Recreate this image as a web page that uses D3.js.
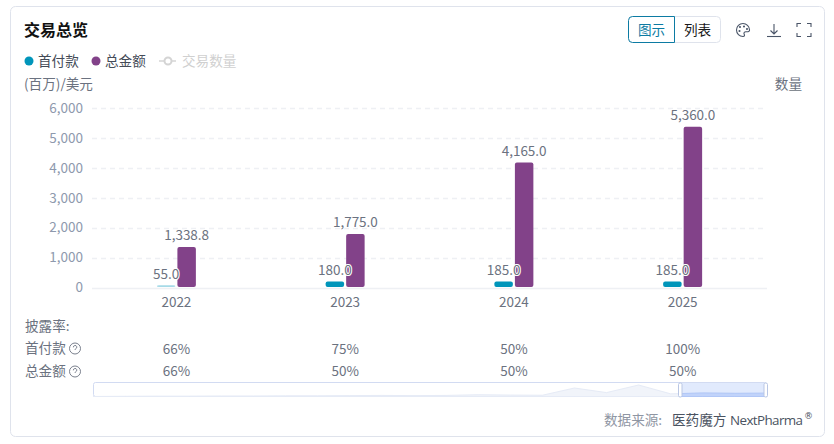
<!DOCTYPE html>
<html><head><meta charset="utf-8">
<script src="https://cdn.jsdelivr.net/npm/d3@7/dist/d3.min.js"></script>
<style>html,body{margin:0;padding:0;background:#fff;overflow:hidden}svg{display:block}
text{font-family:"Noto Sans CJK SC","Noto Sans",sans-serif}</style></head><body><div id="c"></div>
<script>
const years=["2022","2023","2024","2025"];
const upfront=[55,180,185,185];
const total=[1338.8,1775,4165,5360];
const upfrontLabels=["55.0","180.0","185.0","185.0"];
const totalLabels=["1,338.8","1,775.0","4,165.0","5,360.0"];
const yTicks=[0,1000,2000,3000,4000,5000,6000];
const upfrontRate=["66%","75%","50%","100%"];
const totalRate=["66%","50%","50%","50%"];
const overview=[0,0.1,0.2,0.2,0.3,0.3,0.4,0.4,0.5,0.6,0.5,0.6,1.0,0.8,0.7,4.8,2.2,6.5,1.5,2.0,1.8,1.9];
const BLUE="#0095ba",PURPLE="#824289",GREY="#6b7280",AXIS="#8e99ad";
const NUM=13.5;

const svg=d3.select("#c").append("svg").attr("width",834).attr("height",444);
svg.append("rect").attr("x",10.5).attr("y",6.5).attr("width",814).attr("height",430).attr("rx",5)
  .attr("fill","#fff").attr("stroke","#dfe3ec");
const T=(x,y,s,o={})=>svg.append("text").attr("x",x).attr("y",y).text(s)
  .attr("font-size",o.size||13.6).attr("fill",o.fill||GREY).attr("text-anchor",o.anchor||"start")
  .attr("font-weight",o.weight||400);

T(24,36,"交易总览",{size:16,fill:"#111",weight:700});
svg.append("circle").attr("cx",29).attr("cy",61).attr("r",4.5).attr("fill",BLUE);
T(38,66,"首付款",{fill:"#444b57"});
svg.append("circle").attr("cx",96).attr("cy",61).attr("r",4.5).attr("fill",PURPLE);
T(105,66,"总金额",{fill:"#444b57"});
svg.append("line").attr("x1",159).attr("x2",176).attr("y1",61).attr("y2",61).attr("stroke","#d4d4d4").attr("stroke-width",1.5);
svg.append("circle").attr("cx",168).attr("cy",61).attr("r",3.5).attr("fill","#fff").attr("stroke","#d4d4d4").attr("stroke-width",2);
T(182,66,"交易数量",{fill:"#d0d0d0"});
T(24,89,"(百万)/美元",{fill:GREY});
T(802,89,"数量",{fill:GREY,anchor:"end"});

// toggle
svg.append("rect").attr("x",628.5).attr("y",16.5).attr("width",92).attr("height",26).attr("rx",4).attr("fill","#fff").attr("stroke","#dfe3ec");
svg.append("path").attr("d","M674.5 16.5H632.5a4 4 0 0 0-4 4V38.5a4 4 0 0 0 4 4H674.5Z").attr("fill","#fff").attr("stroke","#0c7ba3");
T(651.5,35,"图示",{anchor:"middle",fill:"#0c7ba3"});
T(697.5,35,"列表",{anchor:"middle",fill:"#1a1a1a"});
// icons
const ic=svg.append("g").attr("fill","none").attr("stroke","#4a5568").attr("stroke-width",1.1);
ic.append("path").attr("d","M743 23.5a6.5 6.5 0 1 0 0 13c1.6 0 1.8-1.2 1.2-2.2c-.8-1.4.2-2.6 1.6-2.6h2.2c1.2 0 1.6-1 1.5-2a6.5 6.5 0 0 0-6.5-6.2Z");
ic.selectAll("circle").data([[740,27],[744,26.5],[747,29],[739.5,31]]).join("circle").attr("cx",d=>d[0]).attr("cy",d=>d[1]).attr("r",.5);
ic.append("path").attr("d","M774 24V34M770.5 30.5L774 34L777.5 30.5");
ic.append("path").attr("d","M767 36.5H781");
ic.append("path").attr("d","M797 27V23.5H801M807 23.5H811V27M811 33V36.5H807M801 36.5H797V33");

// plot
const y=d3.scaleLinear().domain([0,6000]).range([287.5,108]);
const x0=d3.scaleBand().domain(years).range([92,767]);
const keys=["upfront","total"];
const x1=d3.scaleBand().domain(keys).range([-19.5,19.5]).paddingInner(0.1);
const cx=i=>x0(years[i])+x0.bandwidth()/2;
const CJK='"Noto Sans CJK SC","Noto Sans",sans-serif';

const yAxis=d3.axisLeft(y).tickValues(yTicks).tickSize(0).tickPadding(0).tickFormat(d3.format(","));
const ya=svg.append("g").attr("transform","translate(83,0)").call(yAxis);
ya.select(".domain").remove();
ya.selectAll("text").attr("font-size",NUM).attr("fill",AXIS).style("font-family",CJK);
svg.append("g").selectAll("line").data(yTicks).join("line")
  .attr("x1",92).attr("x2",767).attr("y1",d=>Math.round(y(d))+.5).attr("y2",d=>Math.round(y(d))+.5)
  .attr("stroke","#eef0f4").attr("stroke-width",1.5).attr("stroke-dasharray",d=>d?"5 4":null);

const xAxis=d3.axisBottom(x0).tickSize(0).tickPadding(0);
const xa=svg.append("g").attr("transform","translate(0,296.5)").call(xAxis);
xa.select(".domain").remove();
xa.selectAll("text").attr("font-size",NUM).attr("fill",GREY).attr("dy",".8em").style("font-family",CJK);

const bar=(k,vals,col,op)=>svg.append("g").selectAll("rect").data(vals).join("rect")
  .attr("x",(d,i)=>cx(i)+x1(k)).attr("width",x1.bandwidth())
  .attr("y",d=>y(d)-.5).attr("height",d=>y(0)-y(d)).attr("rx",2)
  .attr("fill",col).attr("opacity",(d,i)=>op(i));
bar("upfront",upfront,BLUE,i=>i===0?.35:1);
bar("total",total,PURPLE,()=>1);

const lab=(k,vals,labels)=>svg.append("g").selectAll("text").data(vals).join("text")
  .attr("x",(d,i)=>cx(i)+x1(k)+x1.bandwidth()/2).attr("y",d=>y(d)-7)
  .attr("text-anchor","middle").attr("font-size",NUM).attr("fill",GREY)
  .attr("stroke","#fff").attr("stroke-width",2).attr("paint-order","stroke")
  .style("font-family",CJK)
  .text((d,i)=>labels[i]);
lab("upfront",upfront,upfrontLabels);
lab("total",total,totalLabels);

// rate table
T(25,331,"披露率:");
T(25,353,"首付款");
T(25,376,"总金额");
[348.5,371.5].forEach(cy=>{
  const g=svg.append("g").attr("fill","none").attr("stroke",GREY).attr("stroke-width",.9);
  g.append("circle").attr("cx",75).attr("cy",cy).attr("r",5.5);
  g.append("path").attr("d",`M73.4 ${cy-1.2}a1.7 1.7 0 1 1 2.4 1.4c-.6.3-.8.7-.8 1.3`);
});
const rates=(vals,yy)=>svg.append("g").selectAll("text").data(vals).join("text")
  .attr("x",(d,i)=>cx(i)).attr("y",yy).attr("text-anchor","middle").attr("font-size",NUM).attr("fill",GREY)
  .style("font-family",CJK).text(d=>d);
rates(upfrontRate,353.5);
rates(totalRate,376);

// overview slider
const sx=d3.scaleLinear().domain([0,overview.length-1]).range([93,767]);
const sy=d3.scaleLinear().domain([0,6.5]).range([396.5,385]);
const area=d3.area().x((d,i)=>sx(i)).y0(396.5).y1(d=>sy(d));
svg.append("clipPath").attr("id","sel").append("rect").attr("x",680).attr("y",383).attr("width",87).attr("height",14);
svg.append("rect").attr("x",93.5).attr("y",382.5).attr("width",673).attr("height",14).attr("rx",2).attr("fill","#fff").attr("stroke","#d2dbf2");
svg.append("path").datum(overview).attr("d",area).attr("fill","#f1f4fa").attr("stroke","#e6ebf6");
svg.append("rect").attr("x",680).attr("y",383).attr("width",87).attr("height",14).attr("fill","#bcd0fb").attr("opacity",.45);
svg.append("path").datum(overview).attr("d",area).attr("clip-path","url(#sel)").attr("fill","#bcd0fb").attr("opacity",.8).attr("stroke","#a9c2f7");
[680,765.5].forEach(hx=>svg.append("rect").attr("x",hx-1.5).attr("y",383).attr("width",3.5).attr("height",14).attr("rx",1.5).attr("fill","#fff").attr("stroke","#b9c6e4"));

// source
T(604,425,"数据来源:",{fill:"#8f96a3"});
T(672,425,"医药魔方",{fill:"#4a5361"});
svg.append("text").attr("x",730).attr("y",425).text("NextPharma").attr("font-size",13.4).attr("fill","#4a5361").style("font-family",'"Open Sans",sans-serif').attr("textLength",73);
T(804,419,"®",{size:9,fill:"#4a5361"}).style("font-family",'"DejaVu Sans",sans-serif');
</script></body></html>
